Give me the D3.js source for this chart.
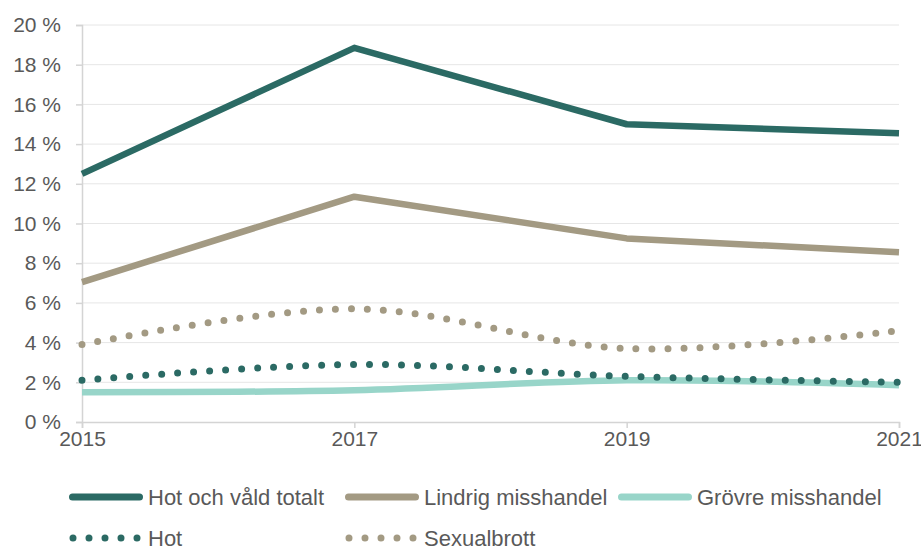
<!DOCTYPE html>
<html>
<head>
<meta charset="utf-8">
<script src="https://cdn.jsdelivr.net/npm/d3@7"></script>
<style>
  body { margin: 0; background: #fff; }
  svg { font-family: "Liberation Sans", Arial, sans-serif; }
</style>
</head>
<body>
<svg id="chart" width="921" height="547"></svg>
<script>
// Data
const years = [2015, 2017, 2019, 2021];
const yTicks = [0, 2, 4, 6, 8, 10, 12, 14, 16, 18, 20];
const hotOchVald = [12.5, 18.85, 15.0, 14.55];
const lindrig = [7.05, 11.35, 9.25, 8.55];
const grovre = [1.5, 1.6, 2.1, 1.85];
const hot = [2.1, 2.9, 2.3, 2.0];
const sexualbrott = [3.9, 5.7, 3.7, 4.6];

const series = [
  { name: "Hot och våld totalt", values: hotOchVald, color: "#2b6a64", dotted: false, smooth: false },
  { name: "Lindrig misshandel", values: lindrig, color: "#a39a83", dotted: false, smooth: false },
  { name: "Grövre misshandel", values: grovre, color: "#98d5c9", dotted: false, smooth: true },
  { name: "Hot", values: hot, color: "#2b6a64", dotted: true, smooth: true },
  { name: "Sexualbrott", values: sexualbrott, color: "#a39a83", dotted: true, smooth: true }
];

const margin = { top: 25, right: 22, bottom: 125, left: 82 },
  width = 921 - margin.left - margin.right,
  height = 547 - margin.top - margin.bottom;

const root = d3.select("#chart");
const svg = root.append("g")
  .attr("transform", `translate(${margin.left},${margin.top})`);

// Scales
const x = d3.scaleLinear().domain([2015, 2021]).range([0, width]);
const y = d3.scaleLinear().domain([0, 20]).range([height, 0]);

// Gridlines
svg.append("g")
  .selectAll("line")
  .data(yTicks.slice(1))
  .enter()
  .append("line")
  .attr("x1", 0)
  .attr("x2", width)
  .attr("y1", d => y(d))
  .attr("y2", d => y(d))
  .attr("stroke", "#e6e6e6")
  .attr("stroke-width", 1);

// Y axis
const yAxis = svg.append("g")
  .call(d3.axisLeft(y).tickValues(yTicks).tickSize(6).tickPadding(10).tickFormat(d => d + " %"));
yAxis.select(".domain").attr("stroke", "#d4d4d4").attr("stroke-width", 1.5);
yAxis.selectAll(".tick line").attr("stroke", "#d4d4d4").attr("stroke-width", 1.5);
yAxis.selectAll("text")
  .attr("fill", "#595959")
  .style("font-size", "21px")
  .attr("dx", "-5")
  .attr("font-family", "Liberation Sans, Arial, sans-serif");

// X axis
const xAxis = svg.append("g")
  .attr("transform", `translate(0,${height})`)
  .call(d3.axisBottom(x).tickValues(years).tickSize(6).tickPadding(3).tickFormat(d3.format("d")));
xAxis.select(".domain").attr("stroke", "#d4d4d4").attr("stroke-width", 1.5);
xAxis.selectAll(".tick line").attr("stroke", "#d4d4d4").attr("stroke-width", 1.5);
xAxis.selectAll("text")
  .attr("fill", "#595959")
  .style("font-size", "21px")
  .attr("font-family", "Liberation Sans, Arial, sans-serif");

// Lines
series.forEach(s => {
  const line = d3.line()
    .curve(s.smooth ? d3.curveCatmullRom.alpha(0) : d3.curveLinear)
    .x((d, i) => x(years[i]))
    .y(d => y(d));

  svg.append("path")
    .datum(s.values)
    .attr("fill", "none")
    .attr("stroke", s.color)
    .attr("stroke-width", s.dotted ? 7 : 6.5)
    .attr("stroke-linecap", s.dotted ? "round" : "butt")
    .attr("stroke-linejoin", "round")
    .attr("stroke-dasharray", s.dotted ? "0 16" : null)
    .attr("d", line);
});

// Legend
const legendPos = [
  { x: 69, y: 497 }, { x: 345, y: 497 }, { x: 618, y: 497 },
  { x: 69, y: 538 }, { x: 345, y: 538 }
];

const items = root.append("g")
  .selectAll("g")
  .data(series)
  .enter()
  .append("g")
  .attr("transform", (d, i) => `translate(${legendPos[i].x},${legendPos[i].y})`);

items.append("line")
  .attr("x1", d => d.dotted ? 4 : 3.5)
  .attr("x2", d => d.dotted ? 68.5 : 70.5)
  .attr("y1", 0)
  .attr("y2", 0)
  .attr("stroke", d => d.color)
  .attr("stroke-width", 7)
  .attr("stroke-linecap", "round")
  .attr("stroke-dasharray", d => d.dotted ? "0 16" : null);

items.append("text")
  .attr("x", 79)
  .attr("y", 0)
  .attr("dy", "0.35em")
  .attr("fill", "#595959")
  .style("font-size", "22px")
  .text(d => d.name);
</script>
</body>
</html>
